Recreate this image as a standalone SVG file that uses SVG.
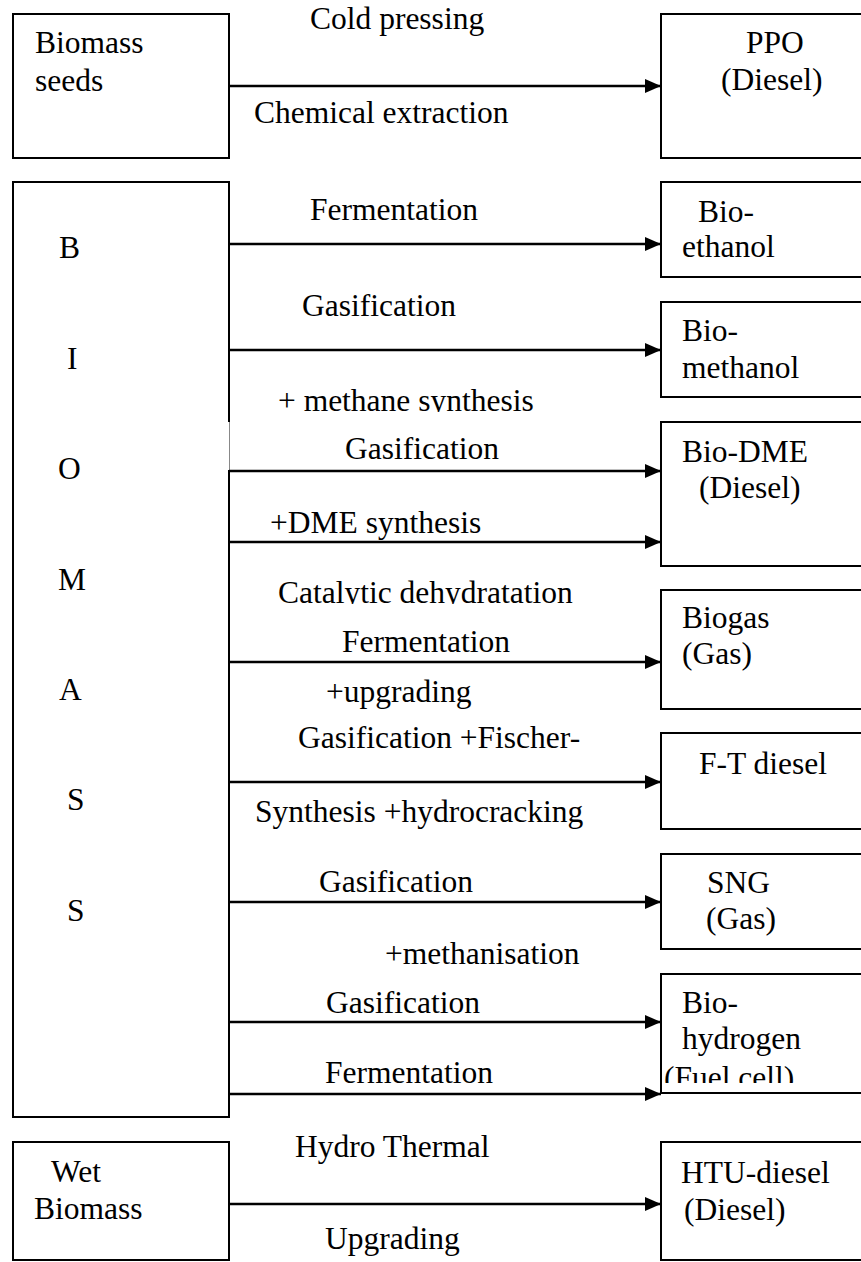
<svg xmlns="http://www.w3.org/2000/svg" width="861" height="1262" viewBox="0 0 861 1262">
<style>
text{font-family:"Liberation Serif","Times New Roman",serif;font-size:31.5px;fill:#000}
.box{fill:none;stroke:#000;stroke-width:2}
.arr{stroke:#000;stroke-width:2.4;fill:none;marker-end:url(#ah)}
</style>
<defs>
<marker id="ah" markerUnits="userSpaceOnUse" markerWidth="16" markerHeight="14" refX="16" refY="7" orient="auto">
<path d="M0,0 L16,7 L0,14 Z" fill="#000"/>
</marker>
<clipPath id="c1"><rect x="200" y="380" width="460" height="32"/></clipPath>
<clipPath id="c2"><rect x="200" y="570" width="460" height="34"/></clipPath>
<clipPath id="c3"><rect x="662" y="1055" width="200" height="28"/></clipPath>
</defs>
<rect width="861" height="1262" fill="#fff"/>

<g id="biomass-seeds">
<rect class="box" x="13" y="14" width="216" height="144"/>
<text x="35" y="53">Biomass</text>
<text x="35" y="91">seeds</text>
</g>
<g id="ppo">
<rect class="box" x="661" y="14" width="220" height="144"/>
<text x="746" y="53">PPO</text>
<text x="721" y="90">(Diesel)</text>
</g>

<g id="biomass">
<rect class="box" x="13" y="182" width="216" height="935"/>
<line x1="229" y1="422" x2="229" y2="470" stroke="#fff" stroke-width="3"/>
<line x1="229.5" y1="422" x2="229.5" y2="470" stroke="#888" stroke-width="1"/>
<text x="59" y="258">B</text>
<text x="67" y="369">I</text>
<text x="58" y="479">O</text>
<text x="58" y="590">M</text>
<text x="59" y="700">A</text>
<text x="67" y="810">S</text>
<text x="67" y="921">S</text>
</g>

<g id="bio-ethanol">
<rect class="box" x="661" y="182" width="220" height="95"/>
<text x="698" y="222">Bio-</text>
<text x="682" y="257">ethanol</text>
</g>
<g id="bio-methanol">
<rect class="box" x="661" y="302" width="220" height="95"/>
<text x="682" y="341">Bio-</text>
<text x="682" y="378">methanol</text>
</g>
<g id="bio-dme">
<rect class="box" x="661" y="422" width="220" height="144"/>
<text x="682" y="462">Bio-DME</text>
<text x="699" y="498">(Diesel)</text>
</g>
<g id="biogas">
<rect class="box" x="661" y="590" width="220" height="119"/>
<text x="682" y="628">Biogas</text>
<text x="682" y="664">(Gas)</text>
</g>
<g id="ft-diesel">
<rect class="box" x="661" y="733" width="220" height="96"/>
<text x="699" y="774">F-T diesel</text>
</g>
<g id="sng">
<rect class="box" x="661" y="854" width="220" height="95"/>
<text x="707" y="893">SNG</text>
<text x="706" y="929">(Gas)</text>
</g>
<g id="bio-hydrogen">
<rect class="box" x="661" y="974" width="220" height="119"/>
<text x="682" y="1013">Bio-</text>
<text x="682" y="1049">hydrogen</text>
<text x="664" y="1088" clip-path="url(#c3)">(Fuel cell)</text>
</g>

<g id="wet-biomass">
<rect class="box" x="13" y="1142" width="216" height="118"/>
<text x="51" y="1182">Wet</text>
<text x="34" y="1219">Biomass</text>
</g>
<g id="htu-diesel">
<rect class="box" x="661" y="1142" width="220" height="118"/>
<text x="681" y="1183">HTU-diesel</text>
<text x="684" y="1220">(Diesel)</text>
</g>

<g id="connectors">
<line class="arr" x1="229" y1="86" x2="661" y2="86"/>
<line class="arr" x1="229" y1="244" x2="661" y2="244"/>
<line class="arr" x1="229" y1="350" x2="661" y2="350"/>
<line class="arr" x1="229" y1="471" x2="661" y2="471"/>
<line class="arr" x1="229" y1="542" x2="661" y2="542"/>
<line class="arr" x1="229" y1="662" x2="661" y2="662"/>
<line class="arr" x1="229" y1="782" x2="661" y2="782"/>
<line class="arr" x1="229" y1="902" x2="661" y2="902"/>
<line class="arr" x1="229" y1="1022" x2="661" y2="1022"/>
<line class="arr" x1="229" y1="1094" x2="661" y2="1094"/>
<line class="arr" x1="229" y1="1204" x2="661" y2="1204"/>

<text x="310" y="29">Cold pressing</text>
<text x="254" y="123">Chemical extraction</text>
<text x="310" y="220">Fermentation</text>
<text x="302" y="316">Gasification</text>
<text x="278" y="411" clip-path="url(#c1)">+ methane synthesis</text>
<text x="345" y="459">Gasification</text>
<text x="270" y="533">+DME synthesis</text>
<text x="278" y="603" clip-path="url(#c2)">Catalytic dehydratation</text>
<text x="342" y="652">Fermentation</text>
<text x="326" y="702">+upgrading</text>
<text x="298" y="748">Gasification +Fischer-</text>
<text x="255" y="822">Synthesis +hydrocracking</text>
<text x="319" y="892">Gasification</text>
<text x="385" y="964">+methanisation</text>
<text x="326" y="1013">Gasification</text>
<text x="325" y="1083">Fermentation</text>
<text x="295" y="1157">Hydro Thermal</text>
<text x="325" y="1249">Upgrading</text>
</g>
</svg>
